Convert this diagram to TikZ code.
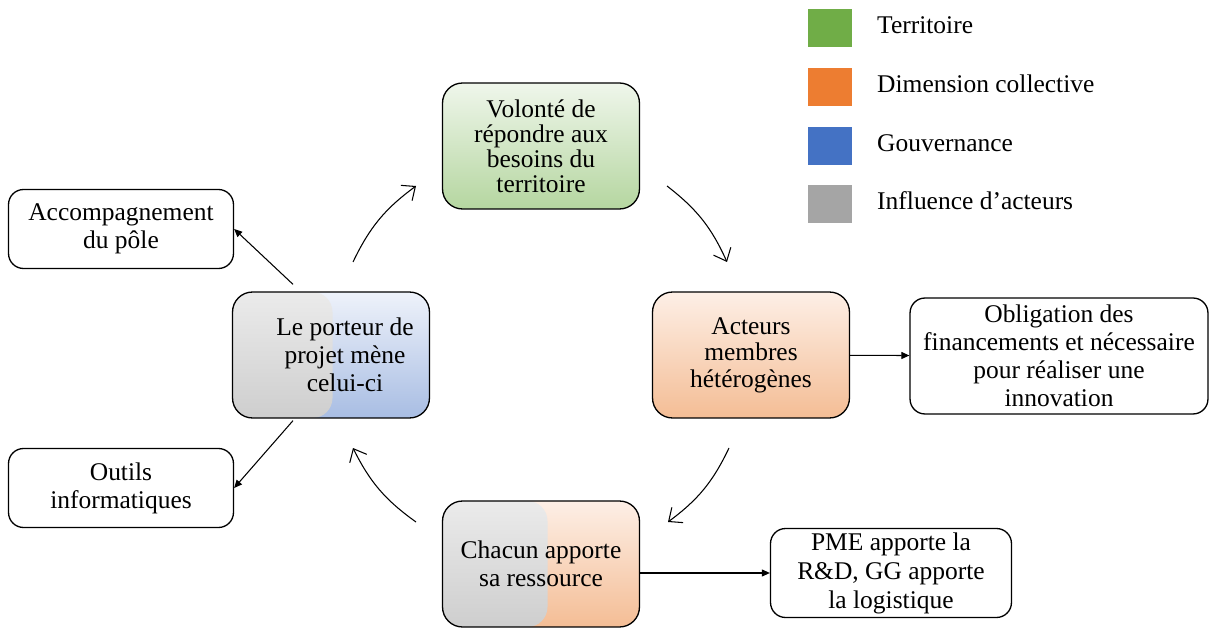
\documentclass[tikz,border=0pt]{standalone}
\usepackage{fontspec}
\setmainfont{Liberation Serif}
\usetikzlibrary{arrows.meta}

\definecolor{vertT}{HTML}{70AD47}
\definecolor{orangeT}{HTML}{ED7D31}
\definecolor{bleuT}{HTML}{4472C4}
\definecolor{grisT}{HTML}{A5A5A5}
\definecolor{vertH}{HTML}{EFF6EB}
\definecolor{vertB}{HTML}{B5D6A0}
\definecolor{orangeH}{HTML}{FDEFE6}
\definecolor{orangeB}{HTML}{F4BD95}
\definecolor{bleuH}{HTML}{EEF2FA}
\definecolor{bleuB}{HTML}{A8BDE3}
\definecolor{grisH}{HTML}{EBEBEB}
\definecolor{grisB}{HTML}{CECECE}

\newcommand\police[1]{\fontsize{14.5pt}{#1}\selectfont}

\tikzset {
  >=Stealth,
  every node/.style={font=\police{16pt}},
  etape/.style={draw, line width=0.75pt, rounded corners=0.4cm,
    minimum width=3.94cm, minimum height=2.52cm, align=center, inner sep=2pt},
  note/.style={draw, line width=0.75pt, rounded corners=0.3cm,
    align=center, inner sep=2pt},
  fleche/.style={-{Triangle[length=1.6mm,width=1.4mm]}, line width=0.6pt},
  courbe/.style={-{Straight Barb[length=2.2mm,width=3.8mm]}, line width=0.6pt},
  gris/.style={path picture={
      \shade[top color=grisH, bottom color=grisB, rounded corners=0.4cm]
      (path picture bounding box.north west) rectangle
      ([xshift=#1]path picture bounding box.south west);}},
}

\begin{document}
\begin{tikzpicture}[x=0.02cm,y=-0.02cm]
  \useasboundingbox (0,0) rectangle (1211,628);

  \coordinate (c1a) at (353,262);
  \coordinate (c1b) at (416,186);
  \coordinate (c2a) at (667,186);
  \coordinate (c2b) at (727,262);
  \coordinate (c3a) at (729,448);
  \coordinate (c3b) at (668,522);
  \coordinate (c4a) at (416,522);
  \coordinate (c4b) at (353,448);

  % le cycle
  \node[etape, top color=vertH, bottom color=vertB, font=\police{14.2pt}]
    (volonte) at (541,146) {Volonté de\\répondre aux\\besoins du\\territoire};
  \node[etape, top color=orangeH, bottom color=orangeB, font=\police{15pt}]
    (acteurs) at (751,355) {Acteurs\\membres\\hétérogènes};
  \node[etape, top color=orangeH, bottom color=orangeB, gris=2.1cm]
    (chacun) at (541,564) {Chacun apporte\\sa ressource};
  \node[etape, top color=bleuH, bottom color=bleuB, gris=2cm,
    label={[align=center, xshift=0.28cm]center:Le porteur de\\projet mène\\celui-ci}]
    (porteur) at (331,355) {};

  \draw[courbe] (c1a) to[bend left=14] (c1b);
  \draw[courbe] (c2a) to[bend left=14] (c2b);
  \draw[courbe] (c3a) to[bend left=14] (c3b);
  \draw[courbe] (c4a) to[bend left=14] (c4b);

  % les remarques
  \node[note, minimum width=4.5cm, minimum height=1.58cm]
    (accomp) at (121,229) {Accompagnement\\du pôle};
  \node[note, minimum width=4.5cm, minimum height=1.58cm]
    (outils) at (121,488) {Outils\\informatiques};
  \node[note, minimum width=5.96cm, minimum height=2.32cm]
    (oblig) at (1059,356) {Obligation des\\financements et nécessaire\\pour réaliser une\\innovation};
  \node[note, minimum width=4.82cm, minimum height=1.78cm, font=\police{16.5pt}]
    (pme) at (891,573) {PME apporte la\\R\&D, GG apporte\\la logistique};

  \draw[fleche] ([shift={(-38,-7)}]porteur.north) -- (accomp.east);
  \draw[fleche] ([shift={(-38,2)}]porteur.south) -- (outils.east);
  \draw[fleche] (acteurs) -- (oblig);
  \draw[fleche] (chacun.east |- pme.west) -- (pme.west);

  % legende
  \foreach \couleur/\texte/\y [count=\i] in {vertT/Territoire/28,
      orangeT/Dimension collective/87, bleuT/Gouvernance/146,
      grisT/Influence d’acteurs/204} {
    \node[fill=\couleur, minimum width=0.88cm, minimum height=0.76cm, inner sep=0pt]
      (leg\i) at (830,\y) {};
    \node[anchor=base west, font=\police{18pt}] (legt\i) at (871,\y+6) {\texte};
  }
\end{tikzpicture}
\end{document}
